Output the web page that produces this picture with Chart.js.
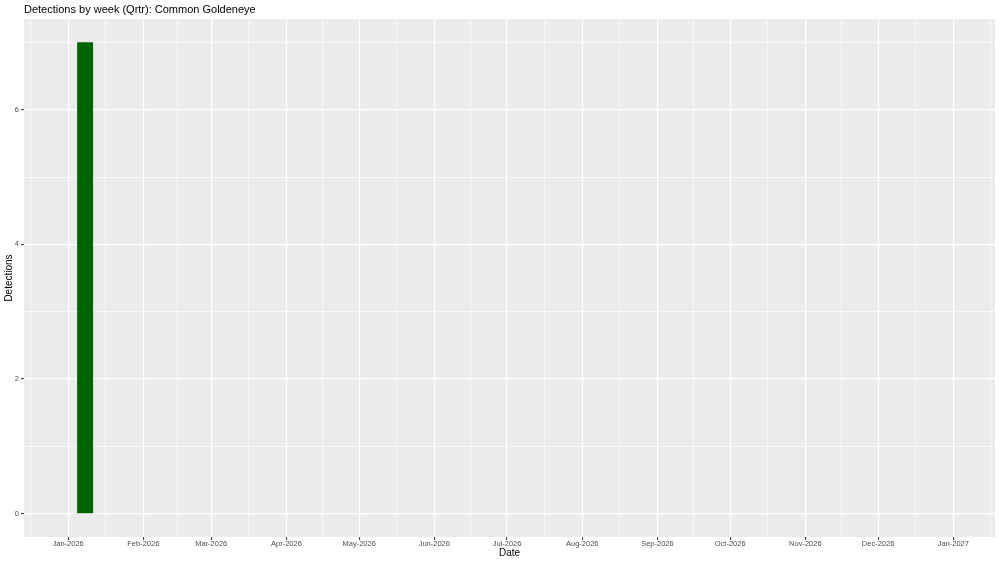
<!DOCTYPE html>
<html>
<head>
<meta charset="utf-8">
<style>
  html, body { margin: 0; padding: 0; background: #ffffff; }
  #chart { display: block; }
</style>
<script src="https://cdn.jsdelivr.net/npm/chart.js@4/dist/chart.umd.min.js"></script>
</head>
<body>
<canvas id="chart" width="1000" height="563"></canvas>
<script>
// --- data ---
const weekDates = ['2026-01-08'];
const detections = [7];
const monthBreaks = ['2025-12-01', '2026-01-01', '2026-02-01', '2026-03-01', '2026-04-01',
  '2026-05-01', '2026-06-01', '2026-07-01', '2026-08-01', '2026-09-01', '2026-10-01',
  '2026-11-01', '2026-12-01', '2027-01-01', '2027-02-01'];
const monthNames = ['Jan', 'Feb', 'Mar', 'Apr', 'May', 'Jun', 'Jul', 'Aug', 'Sep', 'Oct', 'Nov', 'Dec'];
const yBreaks = [0, 1, 2, 3, 4, 5, 6, 7];
const yLabelled = [0, 2, 4, 6];
const dateLimits = ['2026-01-01', '2026-12-31'];

// days since 2026-01-01
const DAY = 86400000;
const origin = Date.UTC(2026, 0, 1);
function toDay(s) {
  const p = s.split('-').map(Number);
  return (Date.UTC(p[0], p[1] - 1, p[2]) - origin) / DAY;
}
function monthLabel(s) {
  const p = s.split('-').map(Number);
  return monthNames[p[1] - 1] + '-' + p[0];
}

const lo = toDay(dateLimits[0]), hi = toDay(dateLimits[1]);
const pad = (hi - lo) * 0.05;
const xMin = lo - pad, xMax = hi + pad;
const yMin = -0.35, yMax = 7.35;

// major + minor x breaks (minor = midpoints between majors)
const xTicks = [];
for (let i = 0; i < monthBreaks.length; i++) {
  const d = toDay(monthBreaks[i]);
  xTicks.push({ value: d, minor: false, text: monthLabel(monthBreaks[i]) });
  if (i < monthBreaks.length - 1) {
    xTicks.push({ value: (d + toDay(monthBreaks[i + 1])) / 2, minor: true, text: '' });
  }
}

const points = weekDates.map((d, i) => ({ x: toDay(d), y: detections[i] }));
const FONT = 'Liberation Sans, Arial, Helvetica, sans-serif';

const panelBg = {
  id: 'panelBg',
  beforeDraw(chart) {
    const { ctx, chartArea: a } = chart;
    ctx.save();
    ctx.fillStyle = '#ffffff';
    ctx.fillRect(0, 0, chart.width, chart.height);
    ctx.fillStyle = '#EBEBEB';
    ctx.fillRect(a.left, a.top, a.right - a.left, a.bottom - a.top);
    ctx.restore();
  }
};

const chart = new Chart(document.getElementById('chart'), {
  type: 'bar',
  data: {
    datasets: [{
      data: points,
      backgroundColor: '#006400',
      borderWidth: 0,
      barThickness: 10
    }]
  },
  options: {
    responsive: false,
    animation: false,
    devicePixelRatio: 1,
    layout: { padding: { left: 0, right: 5, top: 0, bottom: 0 } },
    plugins: {
      legend: { display: false },
      tooltip: { enabled: false },
      title: {
        display: true,
        text: 'Detections by week (Qrtr): Common Goldeneye',
        align: 'start',
        fullSize: false,
        color: '#000000',
        font: { family: FONT, size: 11, weight: 'normal', lineHeight: 1 },
        padding: { top: 4, bottom: 4 }
      }
    },
    scales: {
      x: {
        type: 'linear',
        min: xMin,
        max: xMax,
        offset: false,
        afterBuildTicks(scale) {
          scale.ticks = xTicks.filter(t => t.value >= xMin && t.value <= xMax)
            .map(t => ({ value: t.value, minor: t.minor, text: t.text }));
        },
        afterFit(scale) { scale.height = 26; },
        ticks: {
          autoSkip: false,
          maxRotation: 0,
          padding: -1,
          color: '#4D4D4D',
          font: { family: FONT, size: 7.5 },
          callback(value, index, ticks) { return ticks[index].text; }
        },
        grid: {
          offset: false,
          color: '#FFFFFF',
          lineWidth: c => (c.tick && c.tick.minor) ? 0.6 : 1.2,
          tickLength: 3,
          tickWidth: 1,
          tickColor: c => (c.tick && c.tick.minor) ? 'rgba(0,0,0,0)' : '#333333'
        },
        border: { display: false },
        title: {
          display: true,
          text: 'Date',
          color: '#000000',
          font: { family: FONT, size: 10 },
          padding: { top: 0, bottom: 4 }
        }
      },
      y: {
        type: 'linear',
        min: yMin,
        max: yMax,
        afterBuildTicks(scale) {
          scale.ticks = yBreaks.map(v => ({ value: v, minor: yLabelled.indexOf(v) < 0 }));
        },
        afterFit(scale) { scale.width = 24; },
        ticks: {
          padding: 2,
          color: '#4D4D4D',
          font: { family: FONT, size: 7.5 },
          callback(value) { return yLabelled.indexOf(value) >= 0 ? String(value) : ''; }
        },
        grid: {
          color: '#FFFFFF',
          lineWidth: c => (c.tick && c.tick.minor) ? 0.6 : 1.2,
          tickLength: 3,
          tickWidth: 1,
          tickColor: c => (c.tick && c.tick.minor) ? 'rgba(0,0,0,0)' : '#333333'
        },
        border: { display: false },
        title: {
          display: true,
          text: 'Detections',
          color: '#000000',
          font: { family: FONT, size: 10 },
          padding: { top: 3, bottom: 0 }
        }
      }
    }
  },
  plugins: [panelBg]
});

// bar width = 90% of a week, measured through the x scale
const xs = chart.scales.x;
chart.data.datasets[0].barThickness = xs.getPixelForValue(7 * 0.9) - xs.getPixelForValue(0);
chart.update();
</script>
</body>
</html>
